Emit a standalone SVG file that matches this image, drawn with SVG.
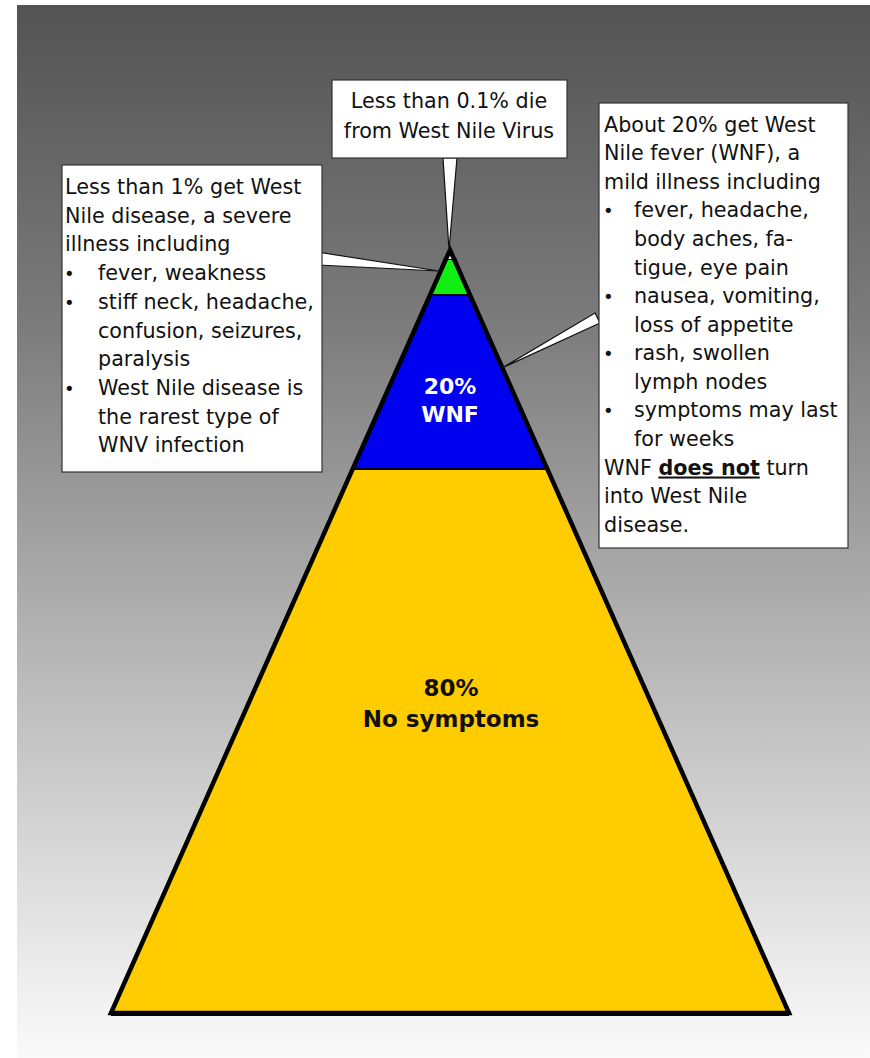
<svg xmlns="http://www.w3.org/2000/svg" width="870" height="1058" viewBox="0 0 870 1058">
  <defs>
    <linearGradient id="bg" x1="0" y1="0" x2="0" y2="1">
      <stop offset="0" stop-color="#535353"/>
      <stop offset="0.3" stop-color="#7b7b7b"/>
      <stop offset="0.6" stop-color="#b3b3b3"/>
      <stop offset="0.85" stop-color="#e0e0e0"/>
      <stop offset="1" stop-color="#fafafa"/>
    </linearGradient>
    <style>
      .box { fill: #ffffff; stroke: #333333; stroke-width: 1.2; }
      .txt { font-family: "DejaVu Sans", Verdana, sans-serif; font-size: 20.7px; fill: #111111; }
      .bul { font-family: "DejaVu Sans", Verdana, sans-serif; font-size: 18px; fill: #111111; }
      .lbl { font-family: "DejaVu Sans", Verdana, sans-serif; font-weight: bold; text-anchor: middle; }
      .ptr { fill: #ffffff; stroke: #111111; stroke-width: 1.2; stroke-linejoin: miter; }
      .band { stroke: #000000; stroke-width: 2; }
    </style>
  </defs>

  <rect id="background" x="17" y="5" width="853" height="1053" fill="url(#bg)"/>

  <g id="pyramid">
    <polygon id="level-yellow" class="band" points="353,469 547,469 789,1013 111,1013" fill="#ffcc00"/>
    <polygon id="level-blue" class="band" points="430.5,295 469.5,295 547,469 353,469" fill="#0000f0"/>
    <polygon id="level-green" class="band" points="444.5,259 455.5,259 469.5,295 430.5,295" fill="#11ee11"/>
    <polygon id="level-white" points="450,250 455.5,259 444.5,259" fill="#ffffff"/>
    <polygon points="450,250 789,1013 111,1013" fill="none" stroke="#000000" stroke-width="4.5" stroke-linejoin="miter"/>
    <line x1="111" y1="1014.5" x2="789" y2="1014.5" stroke="#000000" stroke-width="3"/>
    <text class="lbl" x="450" y="394" font-size="22" fill="#ffffff">20%</text>
    <text class="lbl" x="450" y="422" font-size="22" fill="#ffffff">WNF</text>
    <text class="lbl" x="451" y="696" font-size="23" fill="#111111">80%</text>
    <text class="lbl" x="451" y="727" font-size="23" fill="#111111">No symptoms</text>
  </g>

  <g id="connectors">
    <polygon class="ptr" points="443,158 457,158 449,250"/>
    <polygon class="ptr" points="317,252 318,265 439,271"/>
    <polygon class="ptr" points="595,313 600,323 502,368"/>
  </g>

  <g id="callout-top">
    <rect class="box" x="332" y="80" width="235" height="78"/>
    <text class="txt" x="449" y="108" text-anchor="middle">Less than 0.1% die</text>
    <text class="txt" x="449" y="138" text-anchor="middle">from West Nile Virus</text>
  </g>

  <g id="callout-left">
    <rect class="box" x="62" y="165" width="260" height="307"/>
    <text class="txt" x="65" y="194">Less than 1% get West</text>
    <text class="txt" x="65" y="222.7">Nile disease, a severe</text>
    <text class="txt" x="65" y="251.4">illness including</text>
    <text class="bul" x="64" y="280">•</text>
    <text class="txt" x="98" y="280.1">fever, weakness</text>
    <text class="bul" x="64" y="308.7">•</text>
    <text class="txt" x="98" y="308.8">stiff neck, headache,</text>
    <text class="txt" x="98" y="337.5">confusion, seizures,</text>
    <text class="txt" x="98" y="366.2">paralysis</text>
    <text class="bul" x="64" y="394.8">•</text>
    <text class="txt" x="98" y="394.9">West Nile disease is</text>
    <text class="txt" x="98" y="423.6">the rarest type of</text>
    <text class="txt" x="98" y="452.3">WNV infection</text>
  </g>

  <g id="callout-right">
    <rect class="box" x="599" y="103" width="249" height="445"/>
    <text class="txt" x="604" y="131.7">About 20% get West</text>
    <text class="txt" x="604" y="160.3">Nile fever (WNF), a</text>
    <text class="txt" x="604" y="188.8">mild illness including</text>
    <text class="bul" x="603" y="217.4">•</text>
    <text class="txt" x="634" y="217.4">fever, headache,</text>
    <text class="txt" x="634" y="246">body aches, fa-</text>
    <text class="txt" x="634" y="274.5">tigue, eye pain</text>
    <text class="bul" x="603" y="303.1">•</text>
    <text class="txt" x="634" y="303.1">nausea, vomiting,</text>
    <text class="txt" x="634" y="331.7">loss of appetite</text>
    <text class="bul" x="603" y="360.2">•</text>
    <text class="txt" x="634" y="360.2">rash, swollen</text>
    <text class="txt" x="634" y="388.8">lymph nodes</text>
    <text class="bul" x="603" y="417.4">•</text>
    <text class="txt" x="634" y="417.4">symptoms may last</text>
    <text class="txt" x="634" y="445.9">for weeks</text>
    <text class="txt" x="604" y="474.5">WNF <tspan font-weight="bold" text-decoration="underline">does not</tspan> turn</text>
    <text class="txt" x="604" y="503.1">into West Nile</text>
    <text class="txt" x="604" y="531.7">disease.</text>
  </g>
</svg>
